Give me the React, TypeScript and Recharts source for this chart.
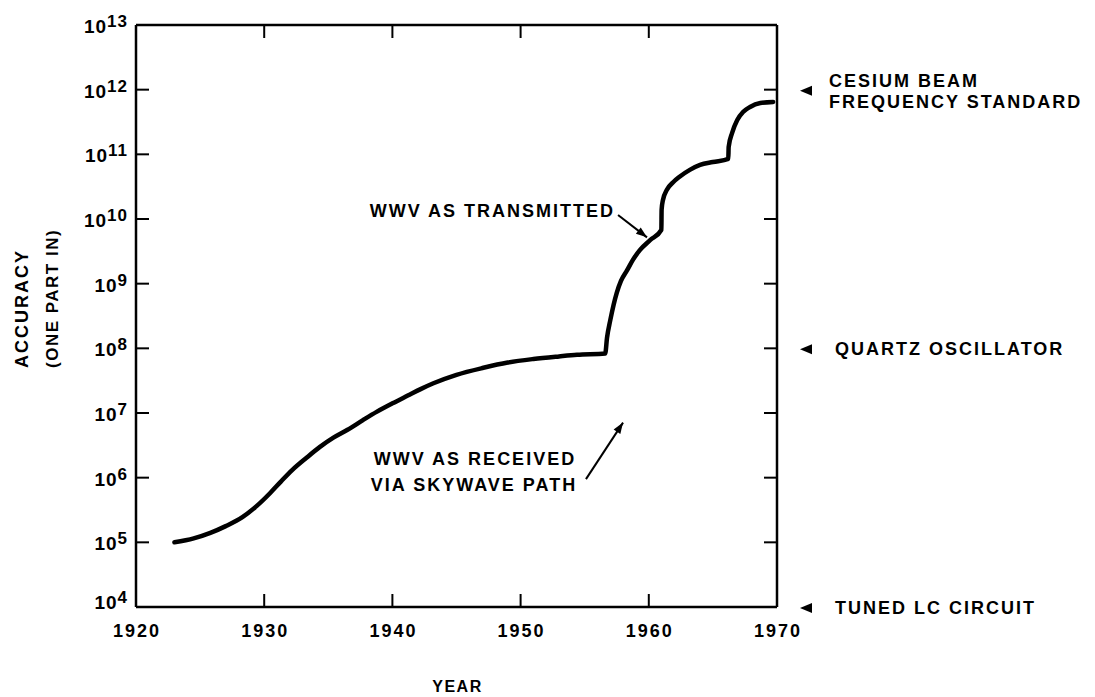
import React from 'react';
import { LineChart, Line, XAxis, YAxis, ReferenceLine } from 'recharts';

// ---- data ----
const years = [
  1923.0, 1924.5, 1925.8, 1927.0, 1928.3, 1929.4, 1930.45, 1931.3, 1932.2, 1933.3,
  1934.35, 1935.4, 1936.5, 1937.7, 1938.8, 1940.0, 1941.2, 1942.2, 1943.2, 1945.0,
  1947.1, 1949.0, 1951.0, 1953.0, 1954.4, 1956.6,
  1956.74, 1957.0, 1957.5, 1957.83, 1958.3, 1958.77, 1959.3, 1960.1, 1960.98,
  1961.0, 1961.1, 1961.4, 1961.9, 1962.4, 1963.2, 1964.0, 1965.0, 1966.2,
  1966.23, 1966.5, 1966.9, 1967.35, 1967.9, 1968.7, 1969.7,
];
const accuracy = [
  1.0e5, 1.15e5, 1.4e5, 1.78e5, 2.45e5, 3.63e5, 5.75e5, 8.7e5, 1.32e6, 2.03e6,
  2.99e6, 4.15e6, 5.5e6, 7.76e6, 1.05e7, 1.41e7, 1.86e7, 2.34e7, 2.88e7, 3.89e7,
  5.0e7, 6.03e7, 6.84e7, 7.5e7, 7.94e7, 8.3e7,
  1.45e8, 2.75e8, 7.2e8, 1.1e9, 1.6e9, 2.35e9, 3.3e9, 4.7e9, 6.8e9,
  1.4e10, 1.95e10, 2.8e10, 3.7e10, 4.5e10, 5.75e10, 6.85e10, 7.6e10, 8.5e10,
  1.3e11, 2.15e11, 3.4e11, 4.5e11, 5.4e11, 6.2e11, 6.45e11,
];
const yearTicks = [1920, 1930, 1940, 1950, 1960, 1970];
const accuracyTicks = [1e4, 1e5, 1e6, 1e7, 1e8, 1e9, 1e10, 1e11, 1e12, 1e13];
const standardValues = [1e12, 1e8, 1e4];
const standardLabels = [
  ['CESIUM BEAM', 'FREQUENCY STANDARD'],
  ['QUARTZ OSCILLATOR'],
  ['TUNED LC CIRCUIT'],
];
const transmittedLabel = 'WWV AS TRANSMITTED';
const transmittedArrow = [{ x: 1957.6, y: 1.15e10 }, { x: 1959.86, y: 5.2e9 }];
const receivedLabel = ['WWV AS RECEIVED', 'VIA SKYWAVE PATH'];
const receivedArrow = [{ x: 1955.1, y: 9.5e5 }, { x: 1957.99, y: 7.1e6 }];

const data = years.map((year, i) => ({ year, acc: accuracy[i] }));

const FONT = '"Liberation Sans", Arial, Helvetica, sans-serif';
const txt = {
  fontFamily: FONT,
  fontWeight: 700,
  fontSize: 18,
  letterSpacing: 2,
  fill: '#000',
} as const;
const TICK = 13;

const LeftTick = (props: any) => {
  const { x, y, payload } = props;
  const exp = Math.round(Math.log10(payload.value));
  const dy = exp === 4 ? 2 : 8;
  return (
    <g>
      <line x1={x} y1={y} x2={x + TICK} y2={y} stroke="#000" strokeWidth={2} />
      <text x={x - 8} y={y + dy} textAnchor="end" {...txt} fontSize={19} letterSpacing={1}>
        10
        <tspan dy={-6} fontSize={17}>{exp}</tspan>
      </text>
    </g>
  );
};

const RightTick = (props: any) => {
  const { x, y, payload } = props;
  const idx = standardValues.indexOf(payload.value);
  const lines = idx >= 0 ? standardLabels[idx] : null;
  return (
    <g>
      <line x1={x} y1={y} x2={x - TICK} y2={y} stroke="#000" strokeWidth={2} />
      {lines && (
        <g>
          <polygon
            points={`${x + 23},${y + 1} ${x + 35},${y - 4} ${x + 35},${y + 6}`}
            fill="#000"
          />
          {lines.length === 1 ? (
            <text x={x + 58} y={y + 7} {...txt}>{lines[0]}</text>
          ) : (
            <g>
              <text x={x + 52} y={y - 3} {...txt}>{lines[0]}</text>
              <text x={x + 52} y={y + 18} {...txt}>{lines[1]}</text>
            </g>
          )}
        </g>
      )}
    </g>
  );
};

const BottomTick = (props: any) => {
  const { x, y, payload } = props;
  return (
    <g>
      <line x1={x} y1={y} x2={x} y2={y - TICK} stroke="#000" strokeWidth={2} />
      <text x={x + 1} y={y + 30} textAnchor="middle" {...txt}>{payload.value}</text>
    </g>
  );
};

const TopTick = (props: any) => {
  const { x, y } = props;
  return <line x1={x} y1={y} x2={x} y2={y + TICK} stroke="#000" strokeWidth={2} />;
};

const arrowHead = (x1: number, y1: number, x2: number, y2: number) => {
  const dx = x2 - x1;
  const dy = y2 - y1;
  const len = Math.sqrt(dx * dx + dy * dy) || 1;
  const ux = dx / len;
  const uy = dy / len;
  const L = 11;
  const W = 4;
  const bx = x2 - ux * L;
  const by = y2 - uy * L;
  return `${x2},${y2} ${bx - uy * W},${by + ux * W} ${bx + uy * W},${by - ux * W}`;
};

const TransmittedShape = (props: any) => {
  const { x1, y1, x2, y2 } = props;
  return (
    <g>
      <line x1={x1} y1={y1} x2={x2} y2={y2} stroke="#000" strokeWidth={2} />
      <polygon points={arrowHead(x1, y1, x2, y2)} fill="#000" />
      <text x={x1 - 3} y={y1 + 2} textAnchor="end" {...txt}>{transmittedLabel}</text>
    </g>
  );
};

const ReceivedShape = (props: any) => {
  const { x1, y1, x2, y2 } = props;
  return (
    <g>
      <line x1={x1} y1={y1} x2={x2} y2={y2} stroke="#000" strokeWidth={2} />
      <polygon points={arrowHead(x1, y1, x2, y2)} fill="#000" />
      <text x={x1 - 111} y={y1 - 14} textAnchor="middle" {...txt}>{receivedLabel[0]}</text>
      <text x={x1 - 112} y={y1 + 12} textAnchor="middle" {...txt}>{receivedLabel[1]}</text>
    </g>
  );
};

const YTitle = (props: any) => {
  const vb = props.viewBox || { x: 0, y: 17, width: 128, height: 582 };
  const by = vb.y + vb.height / 2 + 52;
  return (
    <g>
      <text transform={`translate(20, ${by}) rotate(-90)`} {...txt} textAnchor="start">ACCURACY</text>
      <text transform={`translate(50, ${by}) rotate(-90)`} {...txt} fontSize={17} letterSpacing={1.5} textAnchor="start">(ONE PART IN)</text>
    </g>
  );
};

const XTitle = (props: any) => {
  const vb = props.viewBox || { x: 128, y: 599, width: 641, height: 40 };
  return (
    <text x={vb.x + vb.width / 2 + 1} y={vb.y + 85} textAnchor="middle" {...txt} fontSize={16} letterSpacing={1.5}>
      YEAR
    </text>
  );
};

const axisLine = { stroke: '#000', strokeWidth: 2.5 };

export default function App() {
  return (
    <div style={{ background: '#fff' }}>
      <LineChart
        width={1080}
        height={690}
        data={data}
        margin={{ top: 7, right: 301, bottom: 51, left: 0 }}
      >
        <XAxis
          dataKey="year"
          type="number"
          domain={[1920, 1970]}
          ticks={yearTicks}
          interval={0}
          height={40}
          tickSize={0}
          tickMargin={0}
          tickLine={false}
          axisLine={axisLine}
          tick={<BottomTick />}
          label={<XTitle />}
          allowDataOverflow
        />
        <XAxis
          xAxisId="top"
          orientation="top"
          dataKey="year"
          type="number"
          domain={[1920, 1970]}
          ticks={yearTicks}
          interval={0}
          height={10}
          tickSize={0}
          tickMargin={0}
          tickLine={false}
          axisLine={axisLine}
          tick={<TopTick />}
          allowDataOverflow
        />
        <YAxis
          type="number"
          scale="log"
          domain={[1e4, 1e13]}
          ticks={accuracyTicks}
          interval={0}
          width={128}
          tickSize={0}
          tickMargin={0}
          tickLine={false}
          axisLine={axisLine}
          tick={<LeftTick />}
          label={<YTitle />}
          allowDataOverflow
        />
        <YAxis
          yAxisId="right"
          orientation="right"
          type="number"
          scale="log"
          domain={[1e4, 1e13]}
          ticks={accuracyTicks}
          interval={0}
          width={10}
          tickSize={0}
          tickMargin={0}
          tickLine={false}
          axisLine={axisLine}
          tick={<RightTick />}
          allowDataOverflow
        />
        <ReferenceLine segment={transmittedArrow} shape={<TransmittedShape />} ifOverflow="visible" />
        <ReferenceLine segment={receivedArrow} shape={<ReceivedShape />} ifOverflow="visible" />
        <Line
          dataKey="acc"
          type="monotoneX"
          stroke="#000"
          strokeWidth={4.5}
          strokeLinejoin="round"
          strokeLinecap="round"
          dot={false}
          activeDot={false}
          isAnimationActive={false}
        />
      </LineChart>
    </div>
  );
}
